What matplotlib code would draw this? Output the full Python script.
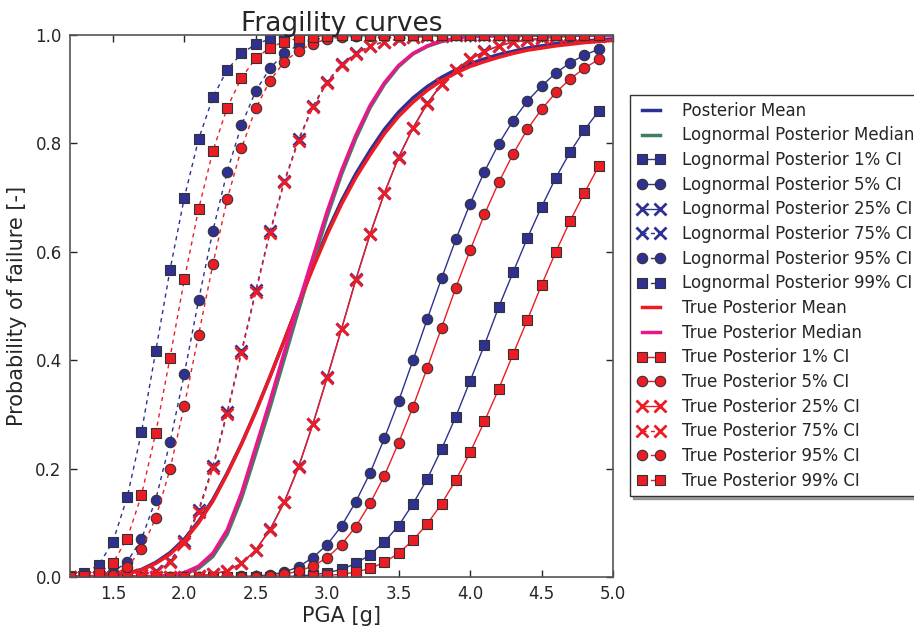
import matplotlib
matplotlib.use("Agg")
import matplotlib.pyplot as plt

# PGA grid of the marked CI curves and of the smooth mean/median curves
pga = [1.2, 1.3, 1.4, 1.5, 1.6, 1.7, 1.8, 1.9, 2.0, 2.1, 2.2, 2.3, 2.4, 2.5, 2.6, 2.7, 2.8, 2.9, 3.0,
       3.1, 3.2, 3.3, 3.4, 3.5, 3.6, 3.7, 3.8, 3.9, 4.0, 4.1, 4.2, 4.3, 4.4, 4.5, 4.6, 4.7, 4.8, 4.9]
pga_fine = pga + [5.0]

# smooth curves
post_mean = [0.0, 0.0005, 0.001, 0.003, 0.007, 0.014, 0.027, 0.045, 0.070, 0.103, 0.143, 0.192, 0.246,
             0.306, 0.370, 0.437, 0.506, 0.573, 0.637, 0.694, 0.744, 0.787, 0.826, 0.858, 0.884, 0.905,
             0.922, 0.936, 0.947, 0.956, 0.964, 0.970, 0.976, 0.980, 0.984, 0.987, 0.989, 0.991, 0.993]
ln_median = [0.0, 0.0, 0.0, 0.0, 0.0, 0.0004, 0.001, 0.002, 0.006, 0.016, 0.038, 0.079, 0.145, 0.228,
             0.313, 0.403, 0.493, 0.580, 0.666, 0.743, 0.809, 0.866, 0.909, 0.942, 0.965, 0.979, 0.988,
             0.994, 0.997, 0.998, 0.999, 1.0, 1.0, 1.0, 1.0, 1.0, 1.0, 1.0, 1.0]
true_mean = [0.0, 0.0005, 0.001, 0.003, 0.006, 0.013, 0.025, 0.042, 0.067, 0.100, 0.140, 0.190, 0.245,
             0.305, 0.370, 0.437, 0.505, 0.570, 0.632, 0.688, 0.737, 0.779, 0.818, 0.850, 0.876, 0.898,
             0.916, 0.930, 0.942, 0.951, 0.959, 0.966, 0.972, 0.976, 0.980, 0.983, 0.986, 0.988, 0.990]
true_median = [0.0, 0.0, 0.0, 0.0, 0.0, 0.0005, 0.001, 0.003, 0.008, 0.020, 0.044, 0.087, 0.155, 0.240,
               0.325, 0.415, 0.505, 0.590, 0.675, 0.750, 0.815, 0.870, 0.912, 0.944, 0.966, 0.980, 0.989,
               0.994, 0.997, 0.998, 0.999, 1.0, 1.0, 1.0, 1.0, 1.0, 1.0, 1.0, 1.0]

# lognormal posterior credible-interval curves
ln_ci01 = [0.0] * 14 + [0.0005, 0.001, 0.002, 0.004, 0.008, 0.014, 0.025, 0.041, 0.065, 0.095, 0.135,
                        0.181, 0.236, 0.296, 0.362, 0.428, 0.498, 0.562, 0.625, 0.683, 0.737, 0.784,
                        0.825, 0.860]
ln_ci05 = [0.0] * 11 + [0.0005, 0.001, 0.002, 0.004, 0.009, 0.019, 0.036, 0.060, 0.094, 0.139, 0.192,
                        0.256, 0.325, 0.400, 0.476, 0.551, 0.623, 0.689, 0.748, 0.799, 0.842, 0.878,
                        0.906, 0.930, 0.949, 0.963, 0.974]
ln_ci25 = [0.0] * 8 + [0.0005, 0.002, 0.005, 0.012, 0.025, 0.050, 0.088, 0.139, 0.204, 0.283, 0.369,
                       0.458, 0.549, 0.633, 0.709, 0.775, 0.829, 0.874, 0.910, 0.936, 0.956, 0.970,
                       0.980, 0.987, 0.991, 0.994, 0.996, 0.998, 0.999, 0.999]
ln_ci75 = [0.0, 0.0, 0.0002, 0.0005, 0.001, 0.004, 0.011, 0.030, 0.066, 0.124, 0.205, 0.305, 0.417,
           0.529, 0.638, 0.731, 0.808, 0.869, 0.914, 0.946, 0.966, 0.980, 0.988, 0.993, 0.996, 0.998,
           0.999] + [1.0] * 11
ln_ci95 = [0.0, 0.0005, 0.002, 0.009, 0.028, 0.070, 0.143, 0.249, 0.375, 0.511, 0.639, 0.748, 0.834,
           0.897, 0.939, 0.966, 0.982, 0.991, 0.996, 0.998, 0.999] + [1.0] * 17
ln_ci99 = [0.002, 0.007, 0.022, 0.065, 0.147, 0.267, 0.417, 0.567, 0.700, 0.808, 0.885, 0.936, 0.966,
           0.983, 0.993, 0.997, 0.999] + [1.0] * 21

# true posterior credible-interval curves
true_ci01 = [0.0] * 16 + [0.0005, 0.001, 0.003, 0.005, 0.009, 0.016, 0.027, 0.044, 0.068, 0.098, 0.135,
                          0.179, 0.230, 0.287, 0.347, 0.411, 0.474, 0.539, 0.600, 0.657, 0.709, 0.758]
true_ci05 = [0.0] * 13 + [0.0005, 0.002, 0.005, 0.011, 0.020, 0.036, 0.060, 0.093, 0.136, 0.187, 0.248,
                          0.314, 0.386, 0.460, 0.534, 0.603, 0.669, 0.728, 0.780, 0.826, 0.863, 0.894,
                          0.919, 0.939, 0.955]
true_ci25 = [0.0] * 8 + [0.0005, 0.002, 0.005, 0.012, 0.025, 0.050, 0.087, 0.138, 0.203, 0.282, 0.368,
                         0.457, 0.548, 0.632, 0.708, 0.774, 0.828, 0.873, 0.909, 0.935, 0.955, 0.969,
                         0.980, 0.987, 0.991, 0.994, 0.996, 0.998, 0.999, 0.999]
true_ci75 = [0.0, 0.0, 0.0002, 0.0005, 0.001, 0.003, 0.010, 0.028, 0.063, 0.120, 0.201, 0.301, 0.413,
             0.525, 0.635, 0.728, 0.805, 0.867, 0.912, 0.945, 0.965, 0.979, 0.988, 0.993, 0.996, 0.998,
             0.999] + [1.0] * 11
true_ci95 = [0.0, 0.0002, 0.001, 0.004, 0.018, 0.051, 0.109, 0.199, 0.316, 0.447, 0.577, 0.697, 0.791,
             0.865, 0.916, 0.951, 0.971, 0.984, 0.993, 0.996, 0.998, 0.999] + [1.0] * 16
true_ci99 = [0.0005, 0.002, 0.007, 0.026, 0.071, 0.151, 0.266, 0.405, 0.549, 0.679, 0.786, 0.866, 0.921,
             0.957, 0.977, 0.988, 0.994, 0.997, 0.999] + [1.0] * 19

blue = "#2E3192"
green = "#3F7F5F"
red = "#ED1C24"
magenta = "#E6198C"
edge = "#333333"

plt.rcParams["font.family"] = "DejaVu Sans"
plt.rcParams["text.color"] = "#262626"
plt.rcParams["axes.labelcolor"] = "#262626"
plt.rcParams["xtick.color"] = "#262626"
plt.rcParams["ytick.color"] = "#262626"

fig = plt.figure(figsize=(9.14, 6.27), dpi=100)
ax = fig.add_axes([0.0766, 0.0797, 0.5941, 0.8644])


def ci_line(y, color, marker, dashed, label):
    kw = dict(color=color, lw=1.0, marker=marker, label=label)
    if marker == "x":
        kw.update(markersize=8, markeredgewidth=2, markeredgecolor=color)
    else:
        kw.update(markersize=7.5, markeredgewidth=0.8, markeredgecolor=edge, markerfacecolor=color)
    line, = ax.plot(pga, y, **kw)
    if dashed:
        line.set_linestyle((0, (3, 3)))
    return line


ax.plot(pga_fine, post_mean, color=blue, lw=2.5, label="Posterior Mean")
ax.plot(pga_fine, ln_median, color=green, lw=2.5, label="Lognormal Posterior Median")
ci_line(ln_ci01, blue, "s", False, "Lognormal Posterior 1% CI")
ci_line(ln_ci05, blue, "o", False, "Lognormal Posterior 5% CI")
ci_line(ln_ci25, blue, "x", False, "Lognormal Posterior 25% CI")
ci_line(ln_ci75, blue, "x", True, "Lognormal Posterior 75% CI")
ci_line(ln_ci95, blue, "o", True, "Lognormal Posterior 95% CI")
ci_line(ln_ci99, blue, "s", True, "Lognormal Posterior 99% CI")
ax.plot(pga_fine, true_mean, color=red, lw=2.5, label="True Posterior Mean")
ax.plot(pga_fine, true_median, color=magenta, lw=2.5, label="True Posterior Median")
ci_line(true_ci01, red, "s", False, "True Posterior 1% CI")
ci_line(true_ci05, red, "o", False, "True Posterior 5% CI")
ci_line(true_ci25, red, "x", False, "True Posterior 25% CI")
ci_line(true_ci75, red, "x", True, "True Posterior 75% CI")
ci_line(true_ci95, red, "o", True, "True Posterior 95% CI")
ci_line(true_ci99, red, "s", True, "True Posterior 99% CI")

ax.set_xlim(1.2, 5.0)
ax.set_ylim(0.0, 1.0)
ax.set_xticks([1.5, 2.0, 2.5, 3.0, 3.5, 4.0, 4.5, 5.0])
ax.set_yticks([0.0, 0.2, 0.4, 0.6, 0.8, 1.0])
ax.tick_params(direction="in", top=True, right=True, length=5, width=1, labelsize=12, pad=6)
for sp in ax.spines.values():
    sp.set_color("#555555")
    sp.set_linewidth(1.2)

ax.set_title("Fragility curves", fontsize=19, pad=3)
ax.set_xlabel("PGA [g]", fontsize=15, labelpad=2)
ax.set_ylabel("Probability of failure [-]", fontsize=15, labelpad=6)

leg = ax.legend(loc="center left", bbox_to_anchor=(1.031, 0.519), borderaxespad=0,
                fontsize=12, numpoints=2, labelspacing=0.40, handlelength=1.7,
                handletextpad=1.0, fancybox=False, shadow=True, framealpha=1)
leg.get_frame().set_edgecolor("#333333")

fig.savefig("out.png", dpi=100)
